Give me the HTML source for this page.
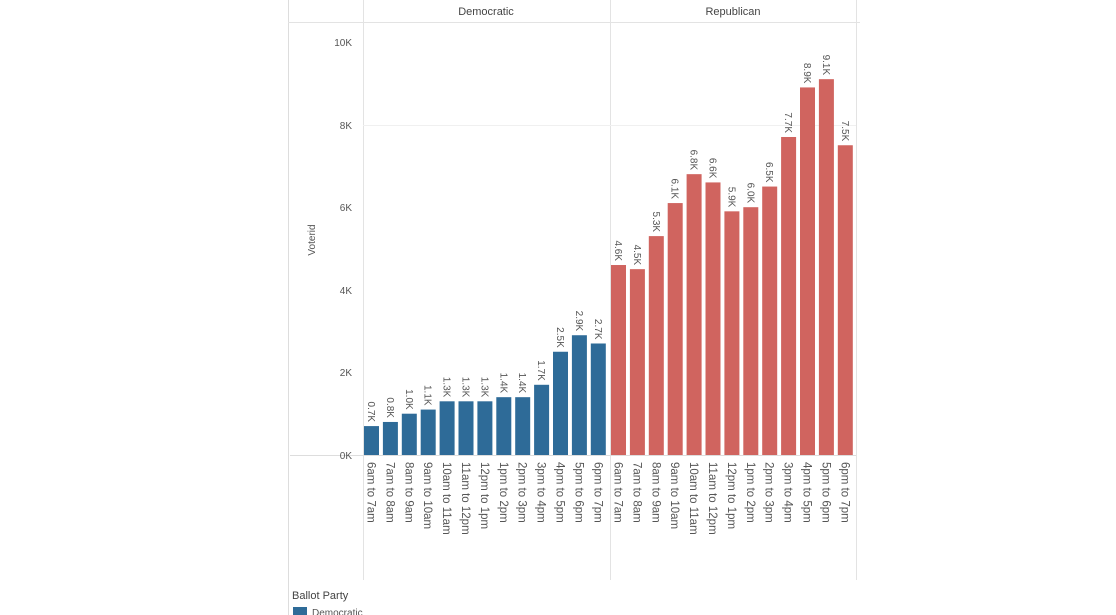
<!DOCTYPE html>
<html><head><meta charset="utf-8"><style>
html,body{margin:0;padding:0;background:#fff;width:1116px;height:615px;overflow:hidden}
svg{display:block;font-family:"Liberation Sans",sans-serif}
</style></head><body>
<svg id="s" width="1116" height="615" xmlns="http://www.w3.org/2000/svg">
<line x1="288.5" y1="0" x2="288.5" y2="615" stroke="#ddd"/>
<line x1="363.5" y1="0" x2="363.5" y2="580" stroke="#e3e3e3"/>
<line x1="610.5" y1="0" x2="610.5" y2="580" stroke="#e3e3e3"/>
<line x1="856.5" y1="0" x2="856.5" y2="580" stroke="#e3e3e3"/>
<line x1="288" y1="22.5" x2="860" y2="22.5" stroke="#e3e3e3"/>
<line x1="363" y1="125.5" x2="856" y2="125.5" stroke="#f0f0f0"/>
<line x1="290" y1="455.5" x2="856" y2="455.5" stroke="#ddd"/>
<text x="486" y="15" font-size="11" text-anchor="middle" fill="#444">Democratic</text>
<text x="733" y="15" font-size="11" text-anchor="middle" fill="#444">Republican</text>
<g font-size="10" fill="#555" text-anchor="end">
<text x="352" y="46">10K</text><text x="352" y="129">8K</text><text x="352" y="211">6K</text>
<text x="352" y="294">4K</text><text x="352" y="376">2K</text><text x="352" y="459">0K</text>
</g>
<text transform="translate(315,240) rotate(-90)" font-size="10" text-anchor="middle" fill="#555">Voterid</text>
<text x="292" y="599" font-size="11" fill="#444">Ballot Party</text>
<rect x="293" y="607" width="14" height="10" fill="#2e6b98"/>
<text x="312" y="616" font-size="10" fill="#555">Democratic</text>
<g id="g"></g>
</svg>
<script>
var d=[0.7,0.8,1.0,1.1,1.3,1.3,1.3,1.4,1.4,1.7,2.5,2.9,2.7],
r=[4.6,4.5,5.3,6.1,6.8,6.6,5.9,6.0,6.5,7.7,8.9,9.1,7.5],
L=["6am to 7am","7am to 8am","8am to 9am","9am to 10am","10am to 11am","11am to 12pm","12pm to 1pm","1pm to 2pm","2pm to 3pm","3pm to 4pm","4pm to 5pm","5pm to 6pm","6pm to 7pm"],
h="";
function draw(a,x0,c){a.forEach(function(v,i){var x=x0+i*18.9,top=455-v*41.3,cx=x+7.5;
h+='<rect x="'+x+'" y="'+top+'" width="15" height="'+(455-top)+'" fill="'+c+'"/>';
h+='<text transform="translate('+(cx-3.5)+','+(top-4)+') rotate(90)" font-size="10" text-anchor="end" fill="#555">'+v.toFixed(1)+'K</text>';
h+='<text transform="translate('+(cx-4)+',462) rotate(90)" font-size="11.5" fill="#555">'+L[i]+'</text>';});}
draw(d,364,"#2e6b98");draw(r,611,"#d0645f");
document.getElementById("g").innerHTML=h;
</script>
</body></html>
